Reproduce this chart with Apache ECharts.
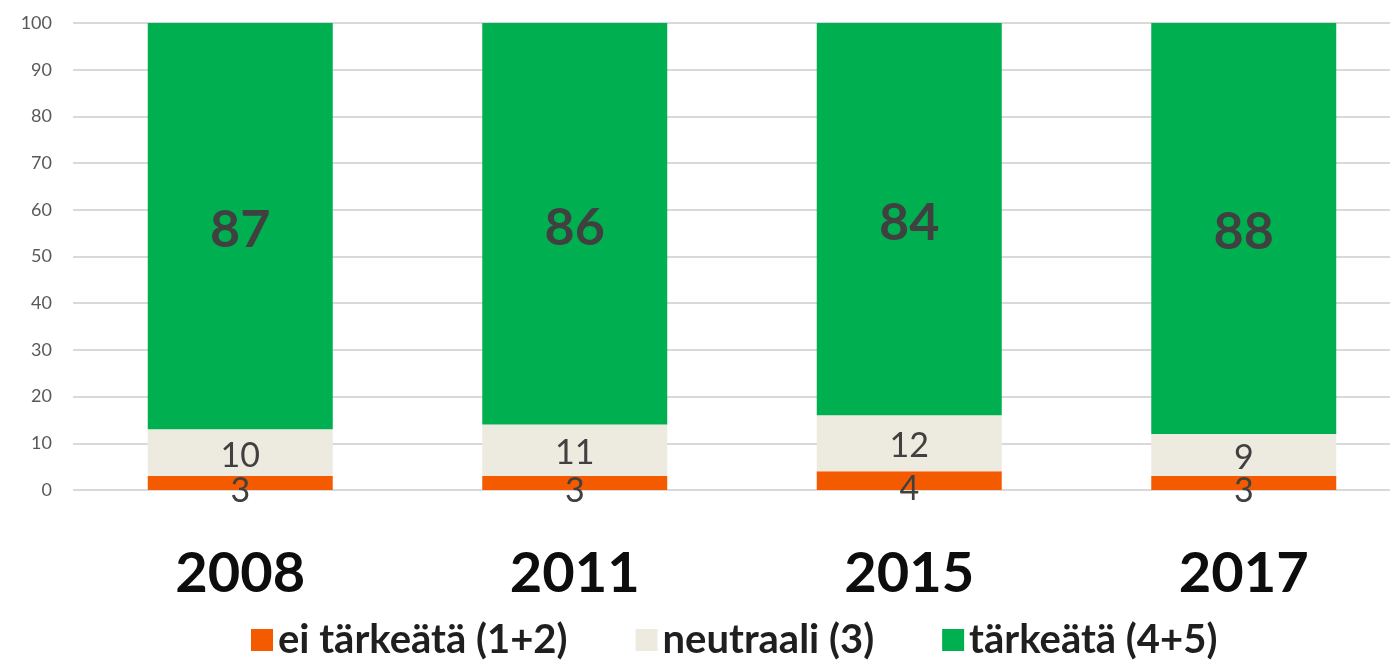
<!DOCTYPE html>
<html lang="fi">
<head>
<meta charset="UTF-8">
<title>Tärkeys</title>
<script src="https://cdn.jsdelivr.net/npm/echarts@6/dist/echarts.min.js"></script>
<style>
    html, body { margin: 0; padding: 0; background: #fff; overflow: hidden; }
    /* a little wider than the window: the plot area runs past the right edge, like the original */
    #container { width: 1411px; height: 665px; }
</style>
</head>
<body>
<div id="container"></div>
<script type="text/javascript">
    // data
    var years = ['2008', '2011', '2015', '2017'];
    var eiTarkeata = [3, 3, 4, 3];
    var neutraali = [10, 11, 12, 9];
    var tarkeata = [87, 86, 84, 88];

    var font = 'Lato, "Open Sans", sans-serif';
    var chart = echarts.init(document.getElementById('container'), null, { renderer: 'canvas' });

    var option = {
        animation: false,
        textStyle: { fontFamily: font },
        grid: { left: 73, right: 0, top: 23, bottom: 175 },
        legend: {
            bottom: 0,
            left: 246,
            itemWidth: 22,
            itemHeight: 22,
            itemGap: 68,
            icon: 'rect',
            textStyle: { fontSize: 40, fontWeight: 'bold', color: '#1f1f1f', fontFamily: font },
            data: ['ei tärkeätä (1+2)', 'neutraali (3)', 'tärkeätä (4+5)']
        },
        xAxis: {
            type: 'category',
            data: years,
            axisLine: { show: false },
            axisTick: { show: false },
            axisLabel: { fontSize: 56, fontWeight: 'bold', color: '#0d0d0d', margin: 56 }
        },
        yAxis: {
            type: 'value',
            min: 0,
            max: 100,
            interval: 10,
            axisLine: { show: false },
            axisTick: { show: false },
            splitLine: { lineStyle: { color: '#d9d9d9', width: 2 } },
            axisLabel: { fontSize: 18, color: '#595959', margin: 21 }
        },
        series: [
            {
                name: 'ei tärkeätä (1+2)',
                type: 'bar',
                stack: 'a',
                barWidth: '55.3%',
                itemStyle: { color: '#f45b00' },
                label: { show: true, position: 'inside', offset: [0, 8], fontSize: 34, color: '#404040' },
                data: eiTarkeata
            },
            {
                name: 'neutraali (3)',
                type: 'bar',
                stack: 'a',
                itemStyle: { color: '#edeadf' },
                label: { show: true, position: 'inside', offset: [0, 3], fontSize: 34, color: '#404040' },
                data: neutraali
            },
            {
                name: 'tärkeätä (4+5)',
                type: 'bar',
                stack: 'a',
                itemStyle: { color: '#00b050' },
                label: { show: true, position: 'inside', offset: [0, 4], fontSize: 52, fontWeight: 'bold', color: '#404040' },
                data: tarkeata
            }
        ]
    };
    chart.setOption(option);
    window.addEventListener('resize', chart.resize);
</script>
</body>
</html>
